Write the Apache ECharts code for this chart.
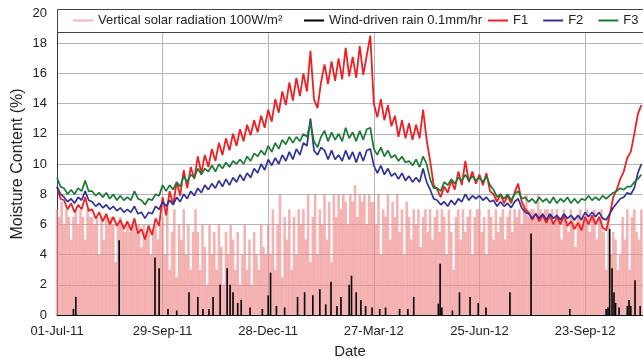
<!DOCTYPE html>
<html>
<head>
<meta charset="utf-8">
<script src="https://cdn.jsdelivr.net/npm/echarts@6/dist/echarts.min.js"></script>
<style>
  html, body { margin: 0; padding: 0; background: #fff; }
  #chart { width: 643px; height: 358px; }
</style>
</head>
<body>
<div id="chart"></div>
<script>
// x values are days counted from 01-Jul-11
const tickLabels = ['01-Jul-11', '29-Sep-11', '28-Dec-11', '27-Mar-12', '25-Jun-12', '23-Sep-12'];
const lastDay = 499.4;

// moisture content (%), one reading every 3 days (alternating to show the daily swing)
const moistureStep = 3;
const f1 = [
  8.5, 7.7, 7.6, 7.0, 7.4, 6.8, 7.3, 7.0, 7.8, 6.9,
  7.0, 6.4, 6.8, 6.2, 6.7, 6.0, 6.5, 5.9, 6.3, 5.7,
  6.2, 5.6, 6.4, 5.4, 5.7, 5.0, 5.9, 5.3, 6.4, 5.9,
  7.8, 6.6, 8.2, 7.3, 8.8, 7.9, 9.6, 8.4, 9.8, 9.0,
  10.5, 9.4, 10.6, 9.8, 11.0, 10.2, 11.4, 10.6, 11.7, 10.9,
  12.0, 11.2, 12.3, 11.5, 12.6, 11.9, 12.9, 12.1, 13.2, 12.4,
  13.6, 12.8, 14.3, 13.4, 14.8, 13.9, 15.4, 14.2, 15.7, 14.5,
  16.0, 14.8, 17.5, 14.3, 13.7, 15.4, 16.6, 15.3, 16.8, 15.5,
  17.0, 15.6, 17.7, 15.8, 17.1, 15.7, 17.8, 15.9, 17.2, 18.5,
  14.0, 13.1, 14.3, 12.9, 13.9, 12.5, 13.2, 11.8, 12.9, 11.7,
  12.7, 11.6, 12.6, 11.7, 13.6, 11.6, 10.2, 8.6, 8.3, 7.8,
  8.5, 8.1, 8.9, 8.3, 9.5, 8.6, 10.2, 8.8, 9.5, 8.7,
  9.3, 8.6, 9.4, 8.2, 8.0, 7.5, 8.0, 7.4, 7.9, 7.4,
  8.1, 8.7, 7.5, 7.0, 6.8, 6.3, 6.7, 6.2, 6.6, 6.1,
  6.6, 6.0, 6.5, 6.0, 6.6, 5.9, 6.2, 5.7, 6.1, 5.6,
  6.5, 6.0, 6.6, 6.0, 6.5, 5.8, 5.6, 6.6, 7.8, 8.3,
  9.0, 9.5, 10.4, 10.8, 12.0, 13.3, 13.9
];
const f2 = [
  8.5, 8.0, 7.8, 7.5, 7.7, 7.4, 7.8, 7.6, 8.2, 7.6,
  7.5, 7.2, 7.4, 7.1, 7.3, 7.0, 7.2, 6.9, 7.1, 6.8,
  7.0, 6.8, 7.2, 6.7, 6.8, 6.4, 6.8, 6.7, 7.2, 7.0,
  7.5, 7.2, 7.6, 7.3, 7.8, 7.5, 8.0, 7.7, 8.2, 7.9,
  8.4, 8.1, 8.6, 8.3, 8.7, 8.4, 8.9, 8.5, 9.0, 8.6,
  9.1, 8.8, 9.3, 8.9, 9.4, 9.1, 9.7, 9.4, 10.0, 9.6,
  10.3, 9.9, 10.4, 10.0, 10.6, 10.2, 10.8, 10.3, 11.0, 10.6,
  11.4, 11.2, 13.0, 10.9, 10.6, 11.1, 10.9, 10.3, 10.9, 10.3,
  10.6, 10.2, 10.9, 10.3, 10.8, 10.1, 10.8, 10.2, 10.9, 11.0,
  9.9, 9.4, 9.9, 9.3, 9.7, 9.2, 9.4, 9.0, 9.4, 8.9,
  9.2, 8.8, 9.1, 8.8, 9.7, 8.8, 8.3, 7.7, 7.6, 7.3,
  7.5, 7.2, 7.6, 7.3, 7.7, 7.5, 8.0, 7.6, 7.9, 7.7,
  7.9, 7.6, 7.8, 7.5, 7.6, 7.2, 7.5, 7.2, 7.4, 7.1,
  7.5, 7.7, 7.1, 6.8, 6.7, 6.4, 6.7, 6.4, 6.7, 6.3,
  6.7, 6.4, 6.6, 6.3, 6.7, 6.4, 6.6, 6.3, 6.6, 6.3,
  6.8, 6.5, 6.8, 6.5, 6.8, 6.4, 6.3, 6.7, 7.1, 7.4,
  7.7, 7.8, 8.1, 8.0, 8.4, 9.4, 10.0
];
const f3 = [
  9.1, 8.5, 8.4, 8.0, 8.3, 8.0, 8.4, 8.2, 8.9, 8.2,
  8.2, 7.9, 8.1, 7.8, 8.1, 7.7, 8.0, 7.6, 7.9, 7.6,
  7.8, 7.6, 8.2, 7.7, 7.6, 7.3, 7.7, 7.6, 8.0, 7.9,
  8.6, 8.2, 8.6, 8.3, 8.8, 8.5, 9.2, 8.8, 9.3, 9.1,
  9.7, 9.3, 9.7, 9.5, 9.9, 9.5, 10.0, 9.7, 10.1, 9.8,
  10.2, 10.0, 10.3, 10.0, 10.5, 10.2, 10.7, 10.5, 10.9, 10.6,
  11.2, 10.8, 11.4, 11.0, 11.6, 11.3, 11.8, 11.4, 11.8, 11.5,
  12.0, 11.8, 12.7, 11.5, 11.1, 11.8, 12.2, 11.5, 12.1, 11.6,
  12.0, 11.5, 12.4, 11.7, 12.1, 11.5, 12.2, 11.6, 12.3, 12.4,
  11.0, 10.6, 11.1, 10.5, 10.9, 10.4, 10.6, 10.2, 10.5, 10.1,
  10.2, 9.9, 10.3, 9.8, 10.5, 10.0, 9.0, 8.4, 8.4, 8.2,
  8.8, 8.6, 9.0, 8.7, 9.1, 8.9, 9.3, 8.9, 9.2, 8.9,
  9.1, 8.8, 9.2, 8.6, 8.3, 7.8, 8.0, 7.7, 8.0, 7.6,
  8.0, 8.2, 7.7, 7.8, 7.5, 7.7, 7.4, 7.8, 7.5, 7.7,
  7.4, 7.8, 7.4, 7.7, 7.5, 7.8, 7.4, 7.7, 7.4, 7.7,
  7.6, 7.9, 7.6, 7.8, 7.6, 7.9, 7.7, 7.9, 8.1, 8.2,
  8.4, 8.3, 8.5, 8.5, 8.8, 9.0, 9.3
];

// daily peak of vertical solar radiation (100 W/m²), one every 2 days
const solarStep = 2;
const solar = [
  7, 6.5, 7.5, 6, 7, 6.5, 5, 6.5, 7, 6, 7, 6.5, 5, 7, 6.5,       // Jul 11
  6.5, 6, 6.5, 4, 6.5, 5, 6.5, 6, 6.5, 6, 3.5, 6, 6.5, 6, 5.5,   // Aug
  6, 5.5, 6, 6, 5.5, 6, 4.5, 6, 5.5, 6, 4, 5.5, 6, 5, 6,         // Sep
  6.5, 4, 7, 3, 5.5, 7, 2.5, 6, 5, 7, 4, 6, 3, 5.5, 7,           // Oct
  5.5, 3, 6, 4.5, 2, 6, 4, 5.5, 3, 6, 4.5, 2, 5.5, 4, 6,         // Nov
  5, 3, 5.5, 2, 4, 6, 3, 5, 2, 5.5, 4, 3, 6, 4.5, 4,             // Dec
  6, 4, 7, 3, 6, 8, 2.5, 6.5, 5, 7, 3, 6.5, 4, 7, 6,             // Jan 12
  7, 5, 8, 3.5, 6.5, 8, 4, 7, 6, 8, 5, 7.5, 3.5, 8, 6.5,         // Feb
  8, 7, 8, 7.5, 6, 8, 7.5, 8.6, 6.5, 8, 7.5, 8, 6, 8, 7.5,       // Mar
  7.5, 6, 8, 4, 7, 6.5, 8, 5, 7.5, 6.5, 8, 5.5, 7, 4, 7.5,       // Apr
  6.5, 5, 7, 6, 7, 4.5, 6.5, 7, 5.5, 7, 5, 6.5, 7, 5.5, 7,       // May
  6.5, 4, 7, 5.5, 3, 6.5, 7, 5, 7, 5.5, 6.5, 7, 4, 6.5, 7,       // Jun
  7, 5.5, 6.5, 4, 7, 6.5, 5, 7, 5.5, 6.5, 7, 5, 6.5, 7, 5.5,     // Jul
  7, 6.5, 7, 6, 7, 8, 6.5, 7, 7, 6.5, 8, 7, 6.5, 7, 7,           // Aug
  6.5, 7, 6, 7, 6.5, 5, 7, 6.5, 5.5, 7, 6.5, 4.5, 6.5, 7, 6,     // Sep
  6.5, 7, 5.5, 6.5, 7, 5, 6.5, 7, 5.5, 3, 6.5, 4, 5.5, 5, 3,     // Oct
  4, 6.5, 5, 7, 3, 6.5, 7, 5.5, 5, 7                             // Nov
];

// wind-driven rain (0.1 mm/hr)
const rainDays = [
  14, 16, 53, 83.5, 87, 94.6, 102, 112.5, 120, 124.4,
  129.5, 133, 139, 145, 147.5, 150, 154, 157, 164.5, 175,
  180, 182, 187, 194, 205, 211, 218, 224, 229, 233.5,
  238.6, 242, 249, 251, 255, 259, 263, 268.5, 275, 280,
  292, 299, 304, 325, 326.5, 328, 337, 343, 352, 359,
  365.6, 386, 404, 437, 468, 469.6, 471, 473, 474.7, 476,
  479, 486, 487.5, 489, 492.6, 497
];
const rainValues = [
  0.4, 1.2, 4.95, 3.8, 3.1, 0.4, 0.3, 1.5, 1.2, 0.4,
  0.4, 1.2, 2.0, 3.1, 2.0, 1.5, 0.8, 1.0, 0.5, 0.4,
  1.3, 2.8, 0.6, 0.5, 1.2, 1.5, 1.3, 1.7, 0.7, 2.2,
  0.6, 1.2, 2.0, 2.6, 1.5, 1.0, 0.6, 0.5, 0.4, 0.5,
  0.4, 0.4, 1.2, 0.75, 3.4, 0.5, 0.3, 1.5, 1.2, 0.8,
  0.5, 1.5, 5.4, 0.4, 0.4, 0.5, 5.7, 3.1, 1.5, 0.8,
  0.5, 0.6, 1.0, 0.6, 2.3, 0.6
];

const font = 'Liberation Sans, Arial, sans-serif';
const chart = echarts.init(document.getElementById('chart'));

function byStep(values, step) {
  return values.map((v, i) => [i * step, v]);
}

function moistureLine(name, values, color, width) {
  return {
    name: name,
    type: 'line',
    data: byStep(values, moistureStep),
    showSymbol: false,
    lineStyle: { color: color, width: width },
    itemStyle: { color: color },
    z: 3
  };
}

const xAxisBase = {
  type: 'value',
  min: 0,
  max: lastDay,
  interval: 90
};

const legendText = { fontSize: 13, color: '#222', fontFamily: font };

const option = {
  animation: false,
  backgroundColor: '#fff',
  textStyle: { fontFamily: font },
  grid: { left: 57, right: 0, top: 13, bottom: 43, outerBoundsMode: 'none' },
  graphic: [{
    type: 'rect',
    z: 5,
    shape: { x: 57.5, y: 9.5, width: 600, height: 23 },
    style: { fill: '#fff', stroke: '#444', lineWidth: 1 }
  }],
  legend: [
    {
      data: ['Vertical solar radiation 100W/m²'],
      left: 73, top: 14, padding: 0,
      icon: 'rect', itemWidth: 20, itemHeight: 2,
      textStyle: legendText, z: 6
    },
    {
      data: ['Wind-driven rain 0.1mm/hr'],
      left: 304, top: 14, padding: 0,
      icon: 'rect', itemWidth: 20, itemHeight: 2,
      textStyle: legendText, z: 6
    },
    {
      data: ['F1', 'F2', 'F3'],
      left: 488, top: 14, padding: 0, itemGap: 15,
      icon: 'rect', itemWidth: 20, itemHeight: 2,
      textStyle: legendText, z: 6
    }
  ],
  xAxis: [
    Object.assign({}, xAxisBase, {
      name: 'Date',
      nameLocation: 'middle',
      nameGap: 29,
      nameTextStyle: { fontSize: 15, color: '#222', fontFamily: font },
      axisLine: { lineStyle: { color: '#111', width: 1 } },
      axisTick: { show: false },
      axisLabel: {
        fontSize: 13, color: '#222', margin: 10, fontFamily: font,
        formatter: v => tickLabels[Math.round(v / 90)] || ''
      },
      splitLine: { show: true, lineStyle: { color: '#b4b4b4', width: 1 } }
    }),
    Object.assign({}, xAxisBase, { show: false })
  ],
  yAxis: {
    type: 'value',
    min: 0,
    max: 20,
    interval: 2,
    name: 'Moisture Content (%)',
    nameLocation: 'middle',
    nameGap: 31,
    nameMoveOverlap: false,
    nameTextStyle: { fontSize: 16, color: '#222', fontFamily: font },
    axisLine: { show: true, lineStyle: { color: '#333', width: 1 } },
    axisTick: { show: false },
    axisLabel: { fontSize: 13, color: '#222', margin: 10, fontFamily: font },
    splitLine: { lineStyle: { color: '#b4b4b4', width: 1 } }
  },
  series: [
    {
      name: 'Vertical solar radiation 100W/m²',
      type: 'bar',
      xAxisIndex: 0,
      data: byStep(solar, solarStep),
      barWidth: 2.6,
      itemStyle: { color: '#f08c8c', opacity: 0.65 },
      z: 1
    },
    {
      name: 'Wind-driven rain 0.1mm/hr',
      type: 'bar',
      xAxisIndex: 1,
      data: rainDays.map((d, i) => [d, rainValues[i]]),
      barWidth: 1.6,
      itemStyle: { color: '#000' },
      z: 2
    },
    moistureLine('F1', f1, '#ee2024', 1.8),
    moistureLine('F2', f2, '#30329a', 1.7),
    moistureLine('F3', f3, '#1c7a36', 1.7)
  ]
};

chart.setOption(option);
</script>
</body>
</html>
